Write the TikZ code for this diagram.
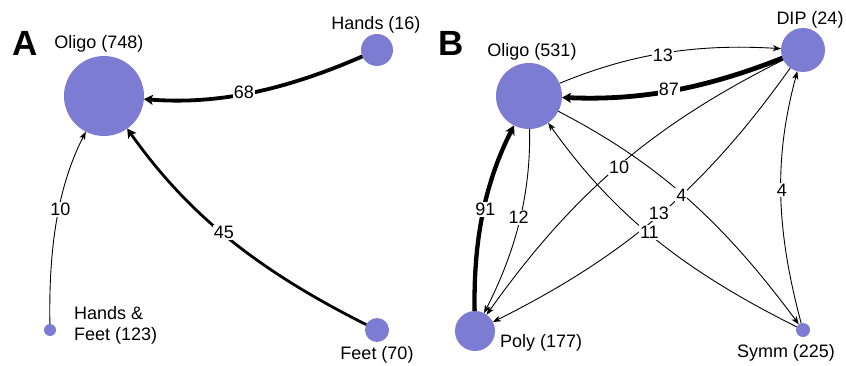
\documentclass[tikz,border=0pt]{standalone}
\usepackage{fontspec}
\setmainfont{Liberation Sans}
\usetikzlibrary{arrows.meta}
\definecolor{nodeblue}{RGB}{124,124,211}
\begin{document}
\begin{tikzpicture}[x=1pt,y=1pt,
  vtx/.style={circle,fill=nodeblue,inner sep=0pt,minimum size=#1},
  txt/.style={font=\fontsize{18}{21}\selectfont,inner sep=0pt},
  panel/.style={font=\fontsize{35}{40}\selectfont\bfseries,inner sep=0pt},
  wlabel/.style={fill=white,inner sep=1pt,font=\fontsize{18}{21}\selectfont},
  link/.style={draw=black,line width=0.9pt,-{Stealth[length=8pt,width=6pt,inset=2pt]}},
  heavy/.style={draw=black,-{Stealth[length=9pt,width=10pt,inset=2pt]}},
]
\useasboundingbox (0,0) rectangle (846,-366);

% ---- panel A ----
\node[panel] (labA) at (25,-43) {A};
\node[vtx=80pt] (oa)  at (104,-96) {};
\node[vtx=32pt] (ha)  at (377,-50) {};
\node[vtx=12pt] (hfa) at (50,-330) {};
\node[vtx=24pt] (fa)  at (377,-330) {};

\node[txt] (toa)  at (99,-44) {Oligo (748)};
\node[txt] (tha)  at (376,-25) {Hands (16)};
\node[txt,anchor=west,align=left] (thfa) at (74,-325.5) {Hands \&\\Feet (123)};
\node[txt] (tfa)  at (377,-355) {Feet (70)};

\draw[heavy,line width=3.8pt,shorten <=16pt,shorten >=40pt]
  (ha.center) to[bend left=14] node[wlabel]{68} (oa.center);
\draw[heavy,line width=2.8pt,shorten <=12pt,shorten >=40pt]
  (fa.center) to[bend left=14] node[wlabel]{45} (oa.center);
\draw[link,shorten <=6pt,shorten >=40pt]
  (hfa.center) to[bend left=14] node[wlabel]{10} (oa.center);

% ---- panel B ----
\node[panel] (labB) at (451,-43) {B};
\node[vtx=66pt] (ob)   at (529,-96) {};
\node[vtx=44pt] (dip)  at (803,-50) {};
\node[vtx=40pt] (poly) at (475,-331) {};
\node[vtx=14pt] (sym)  at (803,-330) {};

\node[txt] (tob)   at (532,-52) {Oligo (531)};
\node[txt] (tdip)  at (810,-20) {DIP (24)};
\node[txt,anchor=west] (tpoly) at (500,-343) {Poly (177)};
\node[txt] (tsym)  at (786,-353) {Symm (225)};

\draw[link,shorten <=33pt,shorten >=22pt]
  (ob.center) to[bend left=13] node[wlabel]{13} (dip.center);
\draw[heavy,line width=4.8pt,shorten <=22pt,shorten >=33pt]
  (dip.center) to[bend left=12] node[wlabel]{87} (ob.center);
\draw[heavy,line width=4.3pt,shorten <=20pt,shorten >=33pt]
  (poly.center) to[bend left=14] node[wlabel]{91} (ob.center);
\draw[link,shorten <=33pt,shorten >=20pt]
  (ob.center) to[bend left=14] node[wlabel]{12} (poly.center);
\draw[link,shorten <=22pt,shorten >=20pt]
  (dip.center) to[bend right=14] node[wlabel]{10} (poly.center);
\draw[link,shorten <=22pt,shorten >=20pt]
  (dip.center) to[bend left=14] node[wlabel]{13} (poly.center);
\draw[link,shorten <=33pt,shorten >=7pt]
  (ob.center) to[bend left=13] node[wlabel]{4} (sym.center);
\draw[link,shorten <=7pt,shorten >=33pt]
  (sym.center) to[bend left=14] node[wlabel]{11} (ob.center);
\draw[link,shorten <=7pt,shorten >=22pt]
  (sym.center) to[bend left=15] node[wlabel]{4} (dip.center);
\end{tikzpicture}
\end{document}
